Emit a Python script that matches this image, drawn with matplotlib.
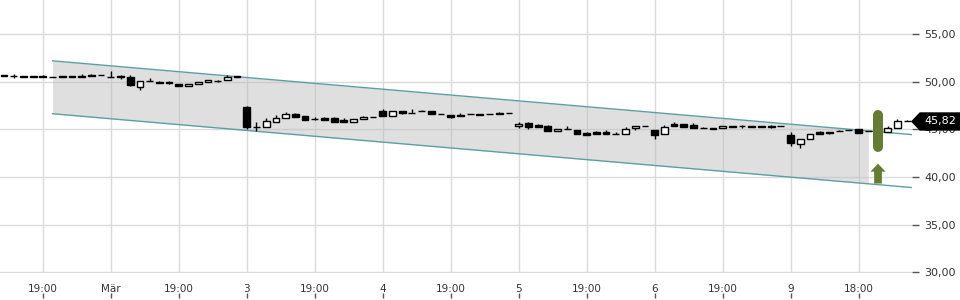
import numpy as np
import matplotlib
matplotlib.use("Agg")
import matplotlib.pyplot as plt
from matplotlib.patches import Polygon

# OHLC Kerzen (Index = Kerze)
opens = [50.70, 50.58, 50.62, 50.62, 50.60, 50.50, 50.53, 50.60, 50.62, 50.70,
         50.71, 50.52, 50.62, 50.50, 49.45, 50.06, 49.98, 49.96, 49.77, 49.56,
         49.74, 49.95, 50.08, 50.16, 50.53, 47.36, 45.22, 45.24, 45.77, 46.18,
         46.60, 46.35, 46.10, 46.18, 46.18, 46.00, 45.77, 46.08, 46.32, 46.95,
         46.42, 46.95, 46.73, 46.87, 46.87, 46.56, 46.53, 46.55, 46.63, 46.60,
         46.60, 46.74, 46.70, 45.35, 45.66, 45.45, 45.38, 44.85, 45.03, 44.93,
         44.61, 44.75, 44.72, 44.54, 44.51, 45.10, 45.35, 44.89, 44.51, 45.55,
         45.51, 45.45, 45.14, 45.17, 45.14, 45.38, 45.31, 45.38, 45.38, 45.35,
         45.38, 44.43, 43.49, 44.02, 44.68, 44.75, 44.78, 44.93, 44.99, 44.78,
         44.57, 44.72, 45.14, 45.82]
closes = [50.58, 50.57, 50.50, 50.50, 50.50, 50.50, 50.53, 50.50, 50.52, 50.60,
          50.71, 50.50, 50.52, 49.60, 50.05, 50.08, 49.85, 49.82, 49.56, 49.77,
          49.95, 50.16, 50.08, 50.53, 50.53, 45.22, 45.20, 45.83, 46.18, 46.60,
          46.32, 45.97, 46.10, 45.97, 45.77, 45.80, 46.11, 46.29, 46.32, 46.42,
          46.95, 46.70, 46.74, 46.87, 46.63, 46.56, 46.32, 46.40, 46.63, 46.46,
          46.60, 46.60, 46.70, 45.59, 45.20, 45.27, 44.82, 45.06, 45.03, 44.51,
          44.40, 44.51, 44.51, 44.54, 45.03, 45.35, 45.35, 44.36, 45.24, 45.31,
          45.24, 45.14, 45.14, 45.03, 45.35, 45.20, 45.30, 45.20, 45.20, 45.22,
          45.38, 43.60, 44.02, 44.51, 44.51, 44.61, 44.78, 44.93, 44.61, 44.78,
          44.93, 45.17, 45.83, 45.82]
highs = [50.72, 50.78, 50.62, 50.62, 50.68, 50.50, 50.53, 50.60, 50.80, 50.85,
         50.71, 51.13, 50.72, 50.70, 50.05, 50.43, 50.02, 50.08, 49.77, 49.77,
         49.95, 50.16, 50.18, 50.68, 50.53, 47.46, 45.79, 46.18, 46.50, 46.81,
         46.66, 46.35, 46.32, 46.32, 46.29, 46.18, 46.11, 46.42, 46.32, 47.15,
         46.95, 46.95, 47.08, 47.02, 46.87, 46.56, 46.53, 46.66, 46.63, 46.60,
         46.60, 46.84, 46.70, 45.72, 45.77, 45.59, 45.48, 45.06, 45.31, 44.93,
         44.75, 44.85, 44.89, 44.68, 45.24, 45.35, 45.35, 44.89, 45.48, 45.76,
         45.51, 45.66, 45.27, 45.17, 45.35, 45.38, 45.43, 45.38, 45.38, 45.48,
         45.38, 44.72, 44.02, 44.51, 44.78, 44.75, 44.93, 44.93, 44.99, 44.78,
         45.06, 45.35, 46.11, 46.00]
lows = [50.56, 50.40, 50.50, 50.50, 50.50, 50.50, 50.53, 50.50, 50.52, 50.60,
        50.71, 50.48, 50.30, 49.58, 49.07, 50.04, 49.85, 49.70, 49.56, 49.56,
        49.74, 49.95, 49.98, 50.16, 50.53, 45.03, 44.85, 45.22, 45.77, 46.18,
        46.32, 45.97, 45.94, 45.97, 45.77, 45.80, 45.77, 46.08, 46.32, 46.42,
        46.42, 46.60, 46.73, 46.87, 46.63, 46.56, 46.18, 46.40, 46.63, 46.46,
        46.60, 46.60, 46.70, 45.09, 45.06, 45.27, 44.82, 44.85, 45.03, 44.51,
        44.40, 44.51, 44.51, 44.54, 44.51, 44.93, 45.35, 44.02, 44.51, 45.31,
        45.24, 45.14, 45.14, 45.03, 45.14, 45.20, 45.17, 45.20, 45.20, 45.12,
        45.38, 43.28, 43.04, 44.02, 44.51, 44.51, 44.78, 44.93, 44.61, 44.78,
        44.57, 44.72, 45.14, 45.82]

tick_pos = [4, 11, 18, 25, 32, 39, 46, 53, 60, 67, 74, 81, 88]
tick_labels = ["19:00", "Mär", "19:00", "3", "19:00", "4", "19:00", "5",
               "19:00", "6", "19:00", "9", "18:00"]
y_ticks = [30, 35, 40, 45, 50, 55]

# Trendkanal
chan_x = [5, 93.5]
chan_upper = [52.18, 44.44]
chan_lower = [46.63, 38.89]
chan_fill_end = 89

last_price = 45.82
signal_x = 90

fig = plt.figure(figsize=(9.6, 3), dpi=100)
ax = fig.add_axes([0, 0.09, 0.95, 0.91])
ax.set_xlim(-0.41, 93.5)
ax.set_ylim(29.93, 58.56)
for s in ax.spines.values():
    s.set_visible(False)

ax.set_axisbelow(True)
ax.grid(True, color="#dadada", lw=1)

# Kanal
xf = np.linspace(chan_x[0], chan_fill_end, 50)
ax.fill_between(xf, np.interp(xf, chan_x, chan_lower), np.interp(xf, chan_x, chan_upper),
                color="#c0c0c0", alpha=0.5, lw=0, zorder=2)
ax.plot(chan_x, chan_upper, color="#5c9fa3", lw=1, zorder=3)
ax.plot(chan_x, chan_lower, color="#5c9fa3", lw=1, zorder=3)

# Kerzen
x = np.arange(len(opens))
o = np.array(opens)
c = np.array(closes)
ax.vlines(x, lows, highs, color="black", lw=1, zorder=4)
body_bottom = np.minimum(o, c)
body_h = np.maximum(np.abs(c - o), 0.01)
colors = ["black" if cc < oo else "white" for oo, cc in zip(o, c)]
ax.bar(x, body_h, bottom=body_bottom, width=0.7, color=colors,
       edgecolor="black", linewidth=1, zorder=5)

# Signal
ax.plot([signal_x, signal_x], [46.53, 43.18], color="#667c34", lw=7.2,
        solid_capstyle="round", zorder=6)
ax.arrow(signal_x, 39.31, 0, 2.09, width=0.8, head_width=1.55, head_length=0.84,
         length_includes_head=True, color="#667c34", lw=0, zorder=6)

# Achsen
ax.set_xticks(tick_pos)
ax.set_xticklabels(tick_labels)
ax.tick_params(axis="x", length=0, pad=8, labelsize=7.5, labelcolor="#333333")
ax.vlines(tick_pos, -0.092, -0.073, transform=ax.get_xaxis_transform(),
          color="#555555", lw=1, clip_on=False)

ax.yaxis.tick_right()
ax.set_yticks(y_ticks)
ax.set_yticklabels([f"{v:.2f}".replace(".", ",") for v in y_ticks])
ax.tick_params(axis="y", length=5, width=1, color="#555555", pad=4,
               labelsize=8, labelcolor="#333333")

# Kursmarke
tr = ax.get_yaxis_transform()
h = 0.89
tag = Polygon([(1.0, last_price), (1.0088, last_price + h), (1.06, last_price + h),
               (1.06, last_price - h), (1.0088, last_price - h)],
              closed=True, transform=tr, color="black", clip_on=False, zorder=10)
ax.add_patch(tag)
ax.text(1.0315, last_price, f"{last_price:.2f}".replace(".", ","), transform=tr,
        color="white", fontsize=8, ha="center", va="center", zorder=11)

fig.savefig("out.png", dpi=100)
